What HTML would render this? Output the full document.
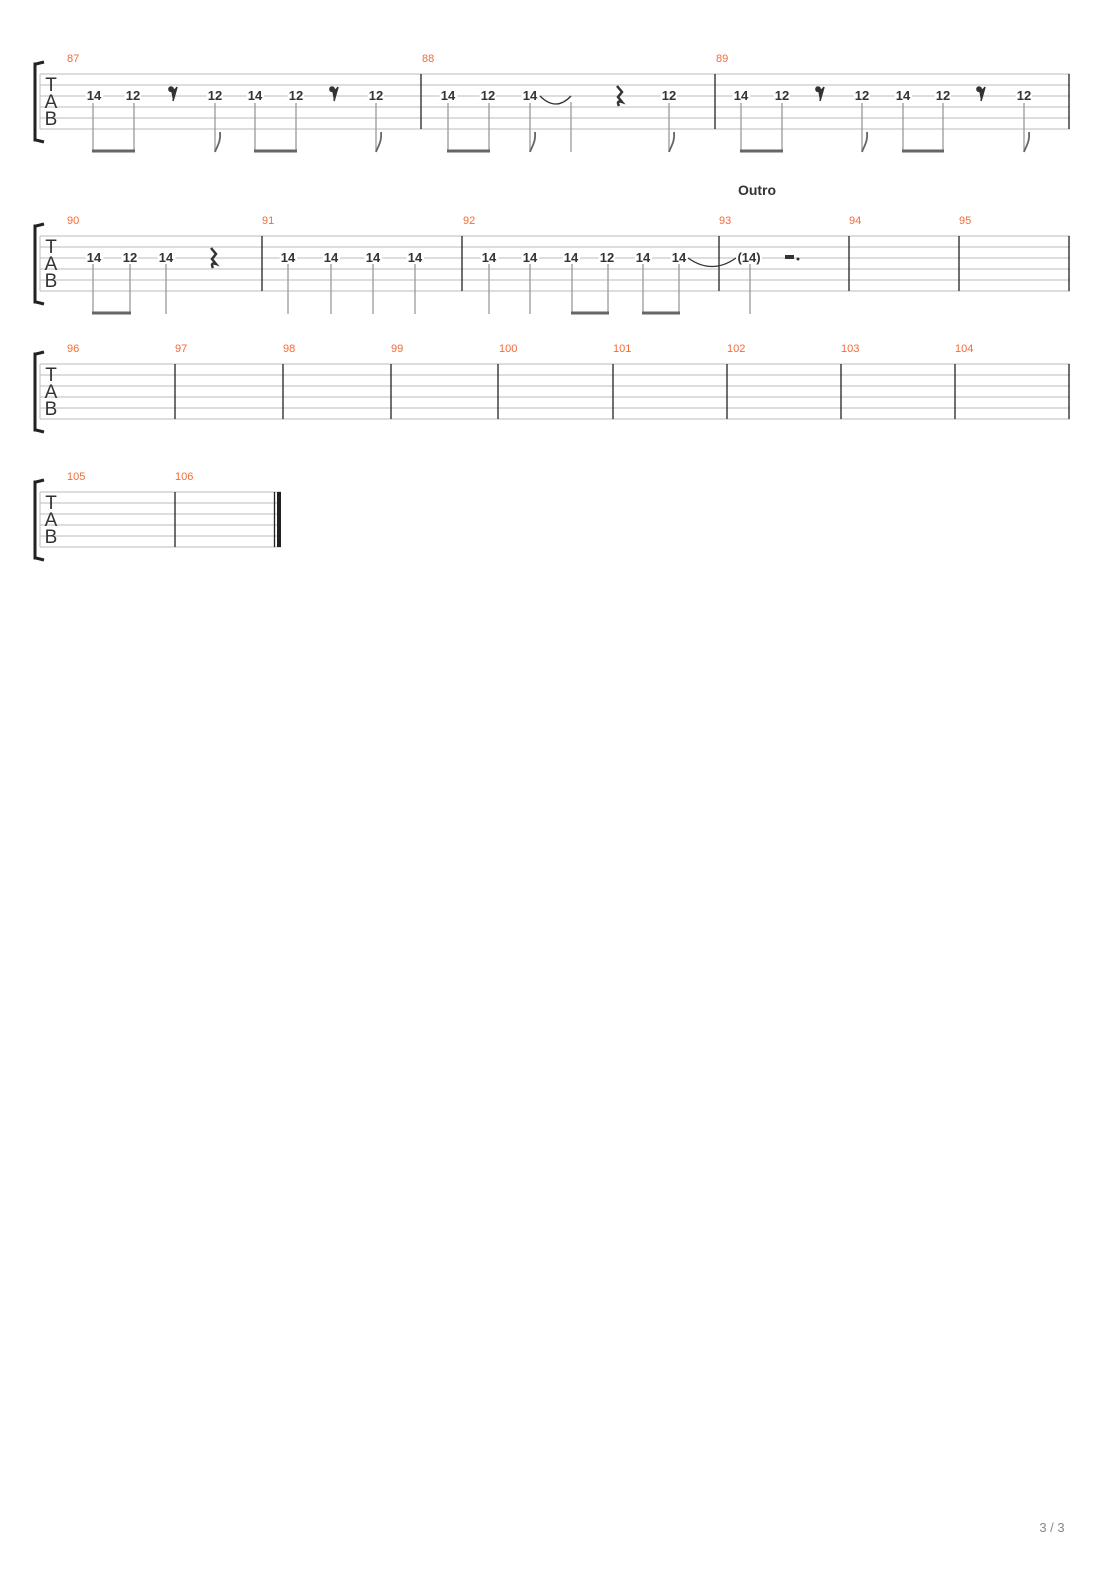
<!DOCTYPE html>
<html><head><meta charset="utf-8"><style>
html,body{margin:0;padding:0;background:#fff;}
svg{display:block;}
.l{stroke:#bbb;stroke-width:1;}
.b{stroke:#222;stroke-width:1.3;}
.s{stroke:#999;stroke-width:1.3;}
.bm{stroke:#666;stroke-width:3;}
.n{font-family:"Liberation Sans",sans-serif;font-weight:bold;font-size:13px;fill:#333;text-anchor:middle;stroke:#fff;stroke-width:4;paint-order:stroke;}
.m{font-family:"Liberation Sans",sans-serif;font-size:11px;fill:#f26b3a;}
.tab{font-family:"Liberation Sans",sans-serif;font-size:19px;fill:#333;text-anchor:middle;}
.fl{fill:none;stroke:#666;stroke-width:1.8;}
.tie{fill:none;stroke:#333;stroke-width:1.3;}
</style></head><body>
<svg width="1110" height="1570" xmlns="http://www.w3.org/2000/svg">
<defs>
<g id="st"><line class="l" x1="40" x2="1070" y1="0" y2="0"/><line class="l" x1="40" x2="1070" y1="11" y2="11"/><line class="l" x1="40" x2="1070" y1="22" y2="22"/><line class="l" x1="40" x2="1070" y1="33" y2="33"/><line class="l" x1="40" x2="1070" y1="44" y2="44"/><line class="l" x1="40" x2="1070" y1="55" y2="55"/><line class="l" x1="40" x2="40" y1="0" y2="55"/>
<path d="M44 -12 L36 -10 L35 -10 L35 66 L36 66 L44 68" fill="none" stroke="#222" stroke-width="3"/>
<text class="tab" x="51" y="17">T</text><text class="tab" x="51" y="34">A</text><text class="tab" x="51" y="51">B</text></g>
<g id="st4"><line class="l" x1="40" x2="281" y1="0" y2="0"/><line class="l" x1="40" x2="281" y1="11" y2="11"/><line class="l" x1="40" x2="281" y1="22" y2="22"/><line class="l" x1="40" x2="281" y1="33" y2="33"/><line class="l" x1="40" x2="281" y1="44" y2="44"/><line class="l" x1="40" x2="281" y1="55" y2="55"/><line class="l" x1="40" x2="40" y1="0" y2="55"/>
<path d="M44 -12 L36 -10 L35 -10 L35 66 L36 66 L44 68" fill="none" stroke="#222" stroke-width="3"/>
<text class="tab" x="51" y="17">T</text><text class="tab" x="51" y="34">A</text><text class="tab" x="51" y="51">B</text></g>
<path id="flag" class="fl" d="M0 0 C 2 -6 6 -10 5 -20"/>
<path id="r8" d="M-3 -6 a2.2 2.2 0 1 0 0.1 0 M-3 -3 Q1 -2 3 -6 L-1 8" fill="#333" stroke="#333" stroke-width="1.5"/>
<path id="r4" d="M-2 -10 L3 -4 L-1 1 L3 6 Q-3 4 0 10" fill="none" stroke="#333" stroke-width="2.5"/>
</defs>

<!-- System 1 -->
<g transform="translate(0,74)"><use href="#st"/></g>
<line class="b" x1="421" x2="421" y1="74" y2="129"/><line class="b" x1="715" x2="715" y1="74" y2="129"/><line class="b" x1="1069" x2="1069" y1="74" y2="129"/>
<text class="m" x="67" y="62">87</text><text class="m" x="422" y="62">88</text><text class="m" x="716" y="62">89</text>
<g>
<line class="s" x1="93" x2="93" y1="103" y2="152"/><line class="s" x1="134" x2="134" y1="103" y2="152"/><line class="bm" x1="92" x2="135" y1="151" y2="151"/>
<line class="s" x1="215" x2="215" y1="103" y2="152"/><use href="#flag" transform="translate(215,152)"/>
<line class="s" x1="255" x2="255" y1="103" y2="152"/><line class="s" x1="296" x2="296" y1="103" y2="152"/><line class="bm" x1="254" x2="297" y1="151" y2="151"/>
<line class="s" x1="376" x2="376" y1="103" y2="152"/><use href="#flag" transform="translate(376,152)"/>
<text class="n" x="94" y="100">14</text><text class="n" x="133" y="100">12</text><use href="#r8" transform="translate(174,93)"/><text class="n" x="215" y="100">12</text><text class="n" x="255" y="100">14</text><text class="n" x="296" y="100">12</text><use href="#r8" transform="translate(335,93)"/><text class="n" x="376" y="100">12</text>

<line class="s" x1="448" x2="448" y1="103" y2="152"/><line class="s" x1="489" x2="489" y1="103" y2="152"/><line class="bm" x1="447" x2="490" y1="151" y2="151"/>
<line class="s" x1="530" x2="530" y1="103" y2="152"/><use href="#flag" transform="translate(530,152)"/>
<line class="s" x1="571" x2="571" y1="102" y2="152"/>
<line class="s" x1="669" x2="669" y1="103" y2="152"/><use href="#flag" transform="translate(669,152)"/>
<text class="n" x="448" y="100">14</text><text class="n" x="488" y="100">12</text><text class="n" x="530" y="100">14</text>
<path class="tie" d="M540 96 Q556 112 571 96"/>
<use href="#r4" transform="translate(619,96)"/><text class="n" x="669" y="100">12</text>

<line class="s" x1="741" x2="741" y1="103" y2="152"/><line class="s" x1="782" x2="782" y1="103" y2="152"/><line class="bm" x1="740" x2="783" y1="151" y2="151"/>
<line class="s" x1="862" x2="862" y1="103" y2="152"/><use href="#flag" transform="translate(862,152)"/>
<line class="s" x1="903" x2="903" y1="103" y2="152"/><line class="s" x1="943" x2="943" y1="103" y2="152"/><line class="bm" x1="902" x2="944" y1="151" y2="151"/>
<line class="s" x1="1024" x2="1024" y1="103" y2="152"/><use href="#flag" transform="translate(1024,152)"/>
<text class="n" x="741" y="100">14</text><text class="n" x="782" y="100">12</text><use href="#r8" transform="translate(821,93)"/><text class="n" x="862" y="100">12</text><text class="n" x="903" y="100">14</text><text class="n" x="943" y="100">12</text><use href="#r8" transform="translate(982,93)"/><text class="n" x="1024" y="100">12</text>
</g>

<!-- System 2 -->
<text x="757" y="195" text-anchor="middle" font-family="Liberation Sans,sans-serif" font-weight="bold" font-size="14" fill="#333">Outro</text>
<g transform="translate(0,236)"><use href="#st"/></g>
<line class="b" x1="262" x2="262" y1="236" y2="291"/><line class="b" x1="462" x2="462" y1="236" y2="291"/><line class="b" x1="719" x2="719" y1="236" y2="291"/><line class="b" x1="849" x2="849" y1="236" y2="291"/><line class="b" x1="959" x2="959" y1="236" y2="291"/><line class="b" x1="1069" x2="1069" y1="236" y2="291"/>
<text class="m" x="67" y="224">90</text><text class="m" x="262" y="224">91</text><text class="m" x="463" y="224">92</text><text class="m" x="719" y="224">93</text><text class="m" x="849" y="224">94</text><text class="m" x="959" y="224">95</text>
<line class="s" x1="93" x2="93" y1="264" y2="314"/><line class="s" x1="130" x2="130" y1="264" y2="314"/><line class="bm" x1="92" x2="131" y1="313" y2="313"/>
<line class="s" x1="166" x2="166" y1="264" y2="314"/>
<text class="n" x="94" y="262">14</text><text class="n" x="130" y="262">12</text><text class="n" x="166" y="262">14</text><use href="#r4" transform="translate(213,258)"/>
<line class="s" x1="288" x2="288" y1="264" y2="314"/><line class="s" x1="331" x2="331" y1="264" y2="314"/><line class="s" x1="373" x2="373" y1="264" y2="314"/><line class="s" x1="415" x2="415" y1="264" y2="314"/>
<text class="n" x="288" y="262">14</text><text class="n" x="331" y="262">14</text><text class="n" x="373" y="262">14</text><text class="n" x="415" y="262">14</text>
<line class="s" x1="489" x2="489" y1="264" y2="314"/><line class="s" x1="530" x2="530" y1="264" y2="314"/>
<line class="s" x1="572" x2="572" y1="264" y2="314"/><line class="s" x1="608" x2="608" y1="264" y2="314"/><line class="bm" x1="571" x2="609" y1="313" y2="313"/>
<line class="s" x1="643" x2="643" y1="264" y2="314"/><line class="s" x1="679" x2="679" y1="264" y2="314"/><line class="bm" x1="642" x2="680" y1="313" y2="313"/>
<line class="s" x1="750" x2="750" y1="264" y2="314"/>
<text class="n" x="489" y="262">14</text><text class="n" x="530" y="262">14</text><text class="n" x="571" y="262">14</text><text class="n" x="607" y="262">12</text><text class="n" x="643" y="262">14</text><text class="n" x="679" y="262">14</text>
<path class="tie" d="M688 258 Q712 275 736 258"/>
<text class="n" x="749" y="262">(14)</text>
<rect x="785" y="255" width="9" height="4" fill="#333"/><circle cx="798" cy="259" r="1.5" fill="#333"/>

<!-- System 3 -->
<g transform="translate(0,364)"><use href="#st"/></g>
<g class="b"><line x1="175" x2="175" y1="364" y2="419"/><line x1="283" x2="283" y1="364" y2="419"/><line x1="391" x2="391" y1="364" y2="419"/><line x1="498" x2="498" y1="364" y2="419"/><line x1="613" x2="613" y1="364" y2="419"/><line x1="727" x2="727" y1="364" y2="419"/><line x1="841" x2="841" y1="364" y2="419"/><line x1="955" x2="955" y1="364" y2="419"/><line x1="1069" x2="1069" y1="364" y2="419"/></g>
<text class="m" x="67" y="352">96</text><text class="m" x="175" y="352">97</text><text class="m" x="283" y="352">98</text><text class="m" x="391" y="352">99</text><text class="m" x="499" y="352">100</text><text class="m" x="613" y="352">101</text><text class="m" x="727" y="352">102</text><text class="m" x="841" y="352">103</text><text class="m" x="955" y="352">104</text>

<!-- System 4 -->
<g transform="translate(0,492)"><use href="#st4"/></g>
<line class="b" x1="175" x2="175" y1="492" y2="547"/>
<line class="b" x1="274.5" x2="274.5" y1="492" y2="547"/><rect x="277" y="492" width="4" height="55" fill="#222"/>
<text class="m" x="67" y="480">105</text><text class="m" x="175" y="480">106</text>

<text x="1052" y="1532" text-anchor="middle" font-family="Liberation Sans,sans-serif" font-size="13" fill="#888">3 / 3</text>
</svg>
</body></html>
